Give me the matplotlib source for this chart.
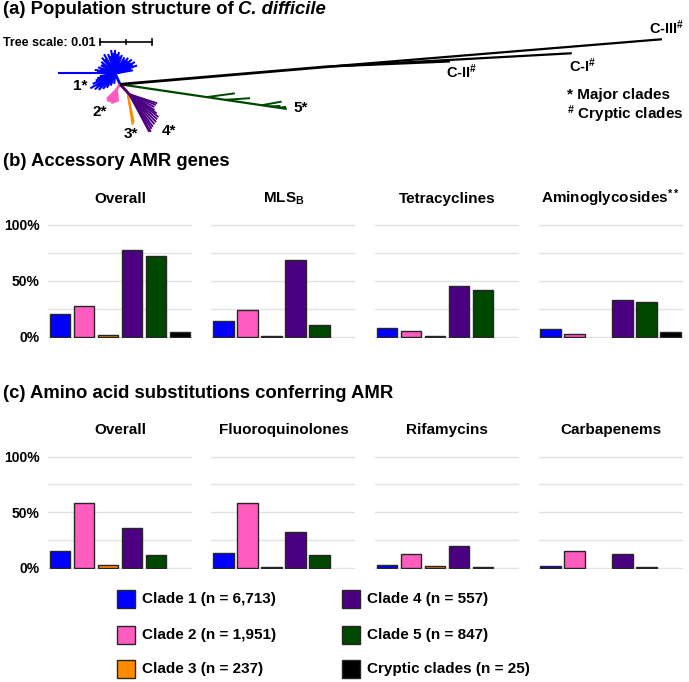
import numpy as np
import matplotlib
matplotlib.use("Agg")
import matplotlib.pyplot as plt
from matplotlib.patches import Rectangle

plt.rcParams['font.family'] = ['Liberation Sans', 'DejaVu Sans']
plt.rcParams['font.weight'] = 'bold'
plt.rcParams['mathtext.fontset'] = 'custom'
plt.rcParams['mathtext.rm'] = 'Liberation Sans:bold'
plt.rcParams['mathtext.bf'] = 'Liberation Sans:bold'
plt.rcParams['mathtext.it'] = 'Liberation Sans:italic:bold'
plt.rcParams['mathtext.sf'] = 'Liberation Sans:bold'

# ---------------- data ----------------
clades = ["Clade 1 (n = 6,713)", "Clade 2 (n = 1,951)", "Clade 3 (n = 237)",
          "Clade 4 (n = 557)", "Clade 5 (n = 847)", "Cryptic clades (n = 25)"]
clade_colors = ["#0000FF", "#FF5CC0", "#FF8C00", "#4B0082", "#004700", "#000000"]

genes_titles = ["Overall", "MLS$_{\\mathrm{B}}$", "Tetracyclines", "Aminoglycosides$^{**}$"]
genes_overall = [20, 27.5, 1.5, 78, 72.5, 4.5]
genes_mlsb = [14.5, 24, 1, 69, 10.5, 0]
genes_tetra = [8, 5, 1, 45.5, 42, 0]
genes_amino = [6.5, 2.5, 0, 33, 31.5, 4]

subs_titles = ["Overall", "Fluoroquinolones", "Rifamycins", "Carbapenems"]
subs_overall = [15, 58.5, 2.5, 35.5, 11.5, 0]
subs_fluoro = [13.5, 58, 1, 32.5, 11, 0]
subs_rifa = [2.5, 12, 1.5, 20, 0.7, 0]
subs_carba = [1.5, 15, 0, 12, 0.5, 0]

ytick_vals = [0, 25, 50, 75, 100]
ytick_labels = ["0%", "", "50%", "", "100%"]

# Tree (branch lengths in units of 0.001 substitutions/site, angles in degrees)
clade1_stem = (114, 2.3)
clade1_leaf_angles = [180, 175, 170, 165, 160, 150, 145, 140, 130, 125, 120, 110, 105, 100, 95, 90, 87,
                      85, 80, 75, 70, 60, 55, 50, 45, 40, 35, 30, 25, 20, 15, 10, 190, 195, 200, 205,
                      211, 215, 218, 222, 225, 232, 240, 250, 265]
clade1_leaf_lengths = [11.0, 3.5, 4.0, 3.0, 3.5, 3.2, 3.0, 3.5, 4.0, 3.4, 4.3, 4.0, 3.5, 4.6, 4.0, 4.5,
                       3.6, 3.8, 4.2, 3.4, 3.8, 3.6, 3.2, 3.9, 3.4, 4.2, 3.6, 4.4, 3.8, 4.5, 3.2, 3.5,
                       3.0, 3.6, 4.0, 4.8, 5.6, 4.4, 5.0, 4.0, 4.5, 3.8, 3.2, 2.5, 2.0]
clade2_stem = (235, 1.0)
clade2_leaf_angles = [225, 230, 235, 240, 245, 250, 255, 260, 265, 270, 275]
clade2_leaf_lengths = [2.8, 3.0, 3.1, 3.0, 2.9, 3.1, 3.0, 2.8, 2.7, 2.6, 2.5]
clade3_stem = (315, 2.0)
clade3_leaf_angles = [279, 280.5, 282]
clade3_leaf_lengths = [6.5, 6.3, 6.0]
clade4_stem = (313, 2.6)
clade4_leaf_angles = [298, 300, 303, 306, 310, 314, 318, 322, 325, 328, 333, 338, 342]
clade4_leaf_lengths = [8.3, 8.4, 8.0, 7.8, 7.6, 7.5, 7.3, 7.2, 6.5, 5.8, 5.5, 5.6, 5.7]
clade5_stem = (351.6, 32.6)
clade5_side_fraction = [0.52, 0.63, 0.85, 0.90, 0.95]
clade5_side_angles = [7.6, 3.7, 10.2, 3.0, 6.0]
clade5_side_lengths = [5.5, 4.85, 3.9, 2.0, 1.5]
cryptic_stem = (4.85, 40.8)
cryptic_names = ["C-III", "C-I", "C-II"]
cryptic_angles = [4.69, 3.13, 2.4]
cryptic_lengths = [64.4, 46.8, 23.2]
tree_scale = 10  # = 0.01

# ---------------- figure ----------------
W, H = 689, 682
fig = plt.figure(figsize=(W / 100, H / 100), dpi=100)


def fpx(x, y):
    return (x / W, 1 - y / H)


# ----- tree axes -----
PXU = 5.17
root_px = (120, 84.3)
axt = fig.add_axes([0, 0, 1, 1])
axt.set_xlim(-root_px[0] / PXU, (W - root_px[0]) / PXU)
axt.set_ylim(-(H - root_px[1]) / PXU, root_px[1] / PXU)
axt.axis('off')


def pol(p, ang, ln):
    a = np.deg2rad(ang)
    return (p[0] + ln * np.cos(a), p[1] + ln * np.sin(a))


def seg(p, q, color, lw=1.3):
    axt.plot([p[0], q[0]], [p[1], q[1]], color=color, lw=lw, solid_capstyle='butt')


root = (0.0, 0.0)
for stem, angs, lens, col, lw in [
        (clade1_stem, clade1_leaf_angles, clade1_leaf_lengths, clade_colors[0], 1.5),
        (clade2_stem, clade2_leaf_angles, clade2_leaf_lengths, clade_colors[1], 1.3),
        (clade3_stem, clade3_leaf_angles, clade3_leaf_lengths, clade_colors[2], 1.3),
        (clade4_stem, clade4_leaf_angles, clade4_leaf_lengths, clade_colors[3], 1.3)]:
    node = pol(root, *stem)
    seg(root, node, col, lw=2)
    for a, l in zip(angs, lens):
        seg(node, pol(node, a, l), col, lw=lw)

# clade 5
end5 = pol(root, *clade5_stem)
seg(root, end5, clade_colors[4], lw=1.6)
for f, a, l in zip(clade5_side_fraction, clade5_side_angles, clade5_side_lengths):
    p = pol(root, clade5_stem[0], clade5_stem[1] * f)
    seg(p, pol(p, a, l), clade_colors[4], lw=1.4)

# cryptic
nodec = pol(root, *cryptic_stem)
seg(root, nodec, clade_colors[5], lw=2.0)
for a, l in zip(cryptic_angles, cryptic_lengths):
    seg(nodec, pol(nodec, a, l), clade_colors[5], lw=1.6)

# scale bar
sb0 = ((100 - root_px[0]) / PXU, (root_px[1] - 41.7) / PXU)
axt.plot([sb0[0], sb0[0] + tree_scale], [sb0[1], sb0[1]], color='black', lw=1.2)
for t in [0, tree_scale / 2, tree_scale]:
    h = 0.6 if t != tree_scale / 2 else 0.35
    axt.plot([sb0[0] + t, sb0[0] + t], [sb0[1] - h, sb0[1] + h], color='black', lw=1.2)

fig.text(*fpx(96, 42.5), "Tree scale: 0.01", fontsize=9, ha='right', va='center')

# tree labels
for txt, x, y in [("1*", 80, 86), ("2*", 100, 112), ("3*", 131, 134), ("4*", 169, 131), ("5*", 301, 108)]:
    fig.text(*fpx(x, y), txt, fontsize=11, ha='center', va='center')
for name, x, y in [("C-III", 667, 28), ("C-I", 583, 66), ("C-II", 462, 72)]:
    fig.text(*fpx(x, y), name + "$^{\\#}$", fontsize=10.5, ha='center', va='center')
fig.text(*fpx(567, 95), "* Major clades", fontsize=11, ha='left', va='center')
fig.text(*fpx(567, 114), "$^{\\#}$ Cryptic clades", fontsize=11, ha='left', va='center')

# section headers
renderer = fig.canvas.get_renderer()
ta = fig.text(*fpx(3, 14), "(a) Population structure of", fontsize=13.3, ha='left', va='baseline')
bb = ta.get_window_extent(renderer=renderer)
fig.text((bb.x1 + 4.5) / W, fpx(0, 14)[1], "C. difficile", fontsize=13.3, fontstyle='italic',
         ha='left', va='baseline')
fig.text(*fpx(3, 165.7), "(b) Accessory AMR genes", fontsize=13.3, ha='left', va='baseline')
fig.text(*fpx(3, 397.5), "(c) Amino acid substitutions conferring AMR", fontsize=13.3,
         ha='left', va='baseline')

# ----- bar panels -----
lefts = [48, 211.5, 375, 538.5]
pw = 144
rows = [
    dict(y0=336.7, y100=225.0, titles=genes_titles,
         data=[genes_overall, genes_mlsb, genes_tetra, genes_amino], tb=203),
    dict(y0=567.7, y100=456.7, titles=subs_titles,
         data=[subs_overall, subs_fluoro, subs_rifa, subs_carba], tb=434),
]
ylo, yhi = -1.0, 101.0
for r in rows:
    ppu = (r['y0'] - r['y100']) / 100.0
    top = r['y100'] - (yhi - 100) * ppu
    bot = r['y0'] + (0 - ylo) * ppu
    for j, (left, title, vals) in enumerate(zip(lefts, r['titles'], r['data'])):
        ax = fig.add_axes([left / W, 1 - bot / H, pw / W, (bot - top) / H])
        ax.set_facecolor('none')
        ax.bar(range(len(vals)), vals, width=0.86, color=clade_colors,
               edgecolor='#262626', linewidth=[1.0 if v > 0 else 0 for v in vals], zorder=3)
        ax.set_xlim(-0.5, 5.5)
        ax.set_ylim(ylo, yhi)
        ax.set_xticks([])
        ax.set_yticks(ytick_vals)
        if j == 0:
            ax.set_yticklabels(ytick_labels, fontsize=10, fontweight='bold')
        else:
            ax.set_yticklabels([])
        ax.tick_params(axis='y', length=0, pad=6)
        ax.grid(axis='y', color='#E2E2E2', lw=1.0, zorder=0)
        ax.set_axisbelow(True)
        for s in ax.spines.values():
            s.set_visible(False)
        fig.text(*fpx(left + pw / 2, r['tb']), title, fontsize=11, ha='center', va='baseline')

# ----- legend -----
leg_cols_x = [117, 342]
leg_rows_y = [599, 635, 669]
sq = 18
for i, (lab, col) in enumerate(zip(clades, clade_colors)):
    cx = leg_cols_x[i // 3]
    cy = leg_rows_y[i % 3]
    fig.patches.append(Rectangle(fpx(cx, cy + sq / 2), sq / W, sq / H, transform=fig.transFigure,
                                 facecolor=col, edgecolor='#262626', lw=1.0))
    fig.text(*fpx(cx + sq + 7, cy), lab, fontsize=11, ha='left', va='center')

fig.savefig("out.png", dpi=100)
